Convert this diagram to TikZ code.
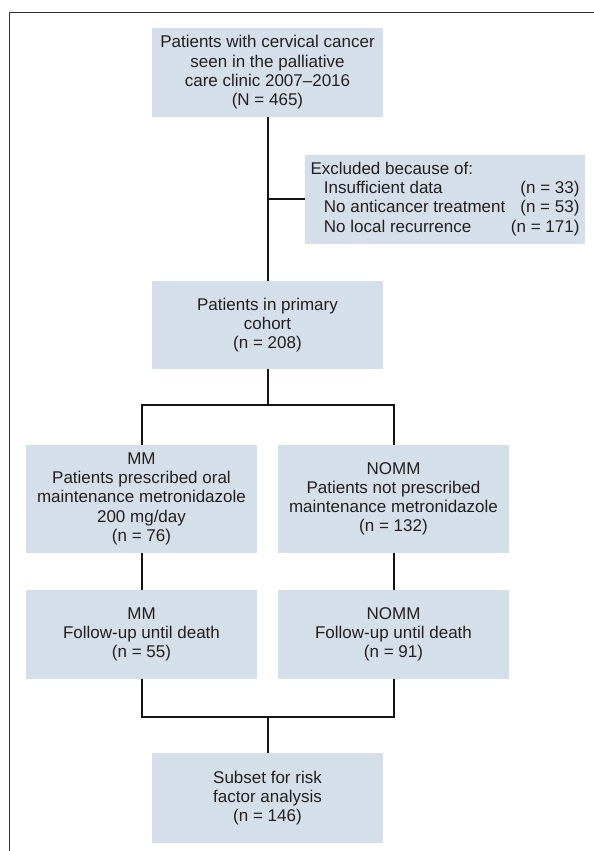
\documentclass[tikz,border=0pt]{standalone}
\usepackage{fontspec}
\setmainfont{Liberation Sans}
\definecolor{boxfill}{RGB}{213,223,234}
\definecolor{textcol}{RGB}{35,31,32}
\definecolor{linecol}{RGB}{20,20,20}
\definecolor{framecol}{RGB}{50,50,50}
\begin{document}
\begin{tikzpicture}[x=1pt,y=-1pt,
  box/.style={fill=boxfill, draw=none, align=center, inner sep=0pt,
    font=\fontsize{17}{19.3}\selectfont, text=textcol},
  conn/.style={line width=2pt, draw=linecol}]
\useasboundingbox (0,0) rectangle (594,851);
\fill[white] (0,0) rectangle (594,851);
\draw[line width=1pt, framecol] (9.5,851) -- (9.5,12.7) -- (594,12.7);

\node[box, minimum width=231pt, minimum height=88.4pt] (top) at (267.5,72.5)
  {Patients with cervical cancer\\seen in the palliative\\care clinic 2007–2016\\(N = 465)};

\node[box, minimum width=280pt, minimum height=88.7pt] (excl) at (445,199.3)
  {\begin{tabular*}{269pt}{@{}l@{\extracolsep{\fill}}r@{}}
   \multicolumn{2}{@{}l}{Excluded because of:}\\
   \hspace*{13.4pt}Insufficient data & (n = 33)\\
   \hspace*{13.4pt}No anticancer treatment & (n = 53)\\
   \hspace*{13.4pt}No local recurrence & (n = 171)
   \end{tabular*}};

\node[box, minimum width=231pt, minimum height=88pt] (prim) at (267.5,325)
  {Patients in primary\\cohort\\(n = 208)};

\node[box, minimum width=231pt, minimum height=107.7pt] (mm) at (141.5,498.8)
  {MM\\Patients prescribed oral\\maintenance metronidazole\\200 mg/day\\(n = 76)};

\node[box, minimum width=231pt, minimum height=107.7pt] (nomm) at (393.5,498.8)
  {NOMM\\Patients not prescribed\\maintenance metronidazole\\(n = 132)};

\node[box, minimum width=231pt, minimum height=89pt] (fmm) at (141.5,634.5)
  {MM\\Follow-up until death\\(n = 55)};

\node[box, minimum width=231pt, minimum height=89pt] (fnomm) at (393.5,634.5)
  {NOMM\\Follow-up until death\\(n = 91)};

\node[box, minimum width=231pt, minimum height=89.7pt] (sub) at (267.5,798.2)
  {Subset for risk\\factor analysis\\(n = 146)};

\coordinate (split) at (267.5,405);
\coordinate (join) at (267.5,717);
\coordinate (exclj) at (267.5,199.3);

\draw[conn] (top.south) -- (prim.north);
\draw[conn] (exclj) -- (excl.west);
\draw[conn] (prim.south) -- (split);
\draw[conn] (mm.north) -- (mm.north |- split) -- (nomm.north |- split) -- (nomm.north);
\draw[conn] (mm.south) -- (fmm.north);
\draw[conn] (nomm.south) -- (fnomm.north);
\draw[conn] (fmm.south) -- (fmm.south |- join) -- (fnomm.south |- join) -- (fnomm.south);
\draw[conn] (join) -- (sub.north);
\end{tikzpicture}
\end{document}
